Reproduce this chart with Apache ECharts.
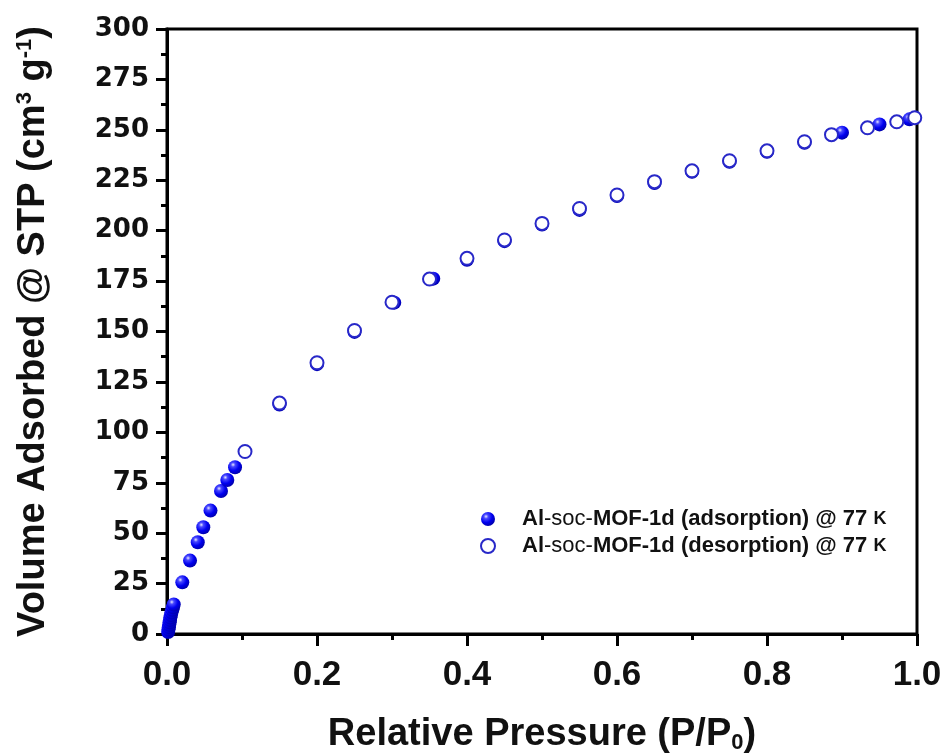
<!DOCTYPE html>
<html>
<head>
<meta charset="utf-8">
<script src="https://cdn.jsdelivr.net/npm/echarts@6/dist/echarts.min.js"></script>
<style>html,body{margin:0;padding:0;background:#fff}#c{width:947px;height:756px}</style>
</head>
<body>
<div id="c"></div>
<script>
// ---- data ----
var adsName = 'Al-soc-MOF-1d (adsorption) @ 77 K';
var desName = 'Al-soc-MOF-1d (desorption) @ 77 K';
var adsP = [0.0015,0.002,0.0025,0.003,0.0035,0.004,0.0045,0.0052,0.006,0.007,0.008,0.009,
            0.0204,0.0307,0.041,0.0484,0.058,0.072,0.0804,0.0907,
            0.15,0.20,0.25,0.303,0.355,0.40,0.45,0.50,0.55,0.60,0.65,0.70,0.75,0.80,0.85,0.90,0.95,0.99];
var adsV = [1.0,2.2,3.4,4.6,5.8,7.0,8.2,9.4,10.7,12.0,13.3,14.6,
            25.6,36.4,45.5,52.9,61.2,70.9,76.4,82.7,
            113.8,133.8,149.8,164.3,176.2,185.6,194.8,203.0,210.3,217.2,223.6,229.2,234.2,239.1,243.6,248.6,252.7,255.2];
var desP = [0.997,0.973,0.934,0.886,0.85,0.80,0.75,0.70,0.65,0.60,0.55,0.50,0.45,0.40,0.35,0.30,0.25,0.20,0.15,0.104];
var desV = [256.0,254.0,251.0,247.6,244.1,239.6,234.7,229.7,224.3,217.7,211.0,203.6,195.4,186.3,176.0,164.5,150.5,134.5,114.5,90.5];
var xTicks = {min:0, max:1, interval:0.2};
var yTicks = {min:0, max:300, interval:25};

function pairs(a,b){return a.map(function(v,i){return [v,b[i]];});}

var sphere = {type:'radial', x:0.36, y:0.32, r:0.72, colorStops:[
  {offset:0, color:'#e8e8ff'},{offset:0.22, color:'#4848ff'},{offset:0.6, color:'#0000f0'},{offset:1, color:'#0000a8'}]};

var LS = "'Liberation Sans',Arial,sans-serif";
var chart = echarts.init(document.getElementById('c'));
chart.setOption({
  animation:false,
  backgroundColor:'#fff',
  grid:{left:167, right:30, top:29, bottom:122, containLabel:false, outerBoundsMode:'none',
    show:true, borderColor:'#000', borderWidth:3, backgroundColor:'transparent'},
  xAxis:{type:'value', min:xTicks.min, max:xTicks.max, interval:xTicks.interval,
    axisLine:{lineStyle:{color:'#000', width:3}},
    axisTick:{inside:false, length:12, lineStyle:{color:'#000', width:3}},
    minorTick:{show:true, splitNumber:2, length:6, lineStyle:{color:'#000', width:3}},
    splitLine:{show:false},
    axisLabel:{margin:24, color:'#111', fontSize:35, fontWeight:'bold', fontFamily:LS,
      formatter:function(v){return v.toFixed(1);}},
    name:'Relative Pressure (P/P{s|0})', nameLocation:'middle', nameGap:82,
    nameTextStyle:{color:'#111', fontSize:38, fontWeight:'bold', fontFamily:LS,
      rich:{s:{fontSize:22, fontWeight:'bold', verticalAlign:'bottom', padding:[16,0,0,0], fontFamily:LS}}}
  },
  yAxis:{type:'value', min:yTicks.min, max:yTicks.max, interval:yTicks.interval,
    axisLine:{lineStyle:{color:'#000', width:3}},
    axisTick:{inside:false, length:11, lineStyle:{color:'#000', width:3}},
    minorTick:{show:true, splitNumber:2, length:6, lineStyle:{color:'#000', width:3}},
    splitLine:{show:false},
    axisLabel:{margin:18, color:'#111', fontSize:26, fontWeight:'bold', fontFamily:"'DejaVu Sans',Arial"},
    name:'Volume Adsorbed @ STP (cm{p|3} g{p|-1})', nameLocation:'middle', nameGap:113, nameRotate:90,
    nameTextStyle:{color:'#111', fontSize:38, fontWeight:'bold', fontFamily:LS,
      rich:{p:{fontSize:22, fontWeight:'bold', verticalAlign:'top', padding:[0,0,18,0], fontFamily:LS}}}
  },
  legend:{orient:'vertical', left:475, top:503, itemWidth:58, itemHeight:14, itemGap:5, symbolKeepAspect:true,
    data:[adsName, desName],
    formatter:function(n){
      var mid = n.indexOf('adsorption')>=0 ? 'MOF-1d (adsorption) @ 77 ' : 'MOF-1d (desorption) @ 77 ';
      return '{b|Al}{r|-soc-}{b|'+mid+'}{k|K}';
    },
    textStyle:{rich:{
      b:{fontSize:22, fontWeight:'bold', color:'#111', fontFamily:LS, lineHeight:28},
      r:{fontSize:22, fontWeight:'normal', color:'#111', fontFamily:LS, lineHeight:28},
      k:{fontSize:18, fontWeight:'bold', color:'#111', fontFamily:LS, lineHeight:28}
    }}
  },
  series:[
    {name:adsName, type:'scatter', data:pairs(adsP, adsV), symbol:'circle', symbolSize:14, z:2,
      itemStyle:{color:sphere, borderWidth:0, opacity:1}},
    {name:desName, type:'scatter', data:pairs(desP, desV), symbol:'circle', symbolSize:13, z:3,
      itemStyle:{color:'#fff', borderColor:'#2828c8', borderWidth:2, opacity:1}}
  ]
});
</script>
</body>
</html>
